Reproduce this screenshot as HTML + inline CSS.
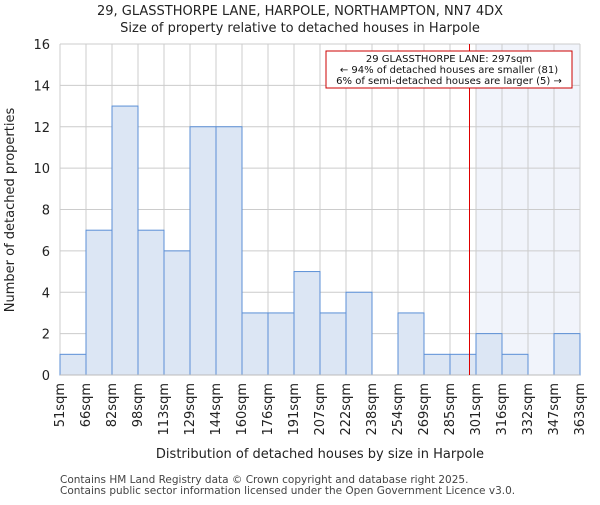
<!DOCTYPE html>
<html><head><meta charset="utf-8"><style>body{margin:0;background:#fff}svg{font-family:"DejaVu Sans","Liberation Sans",sans-serif}</style></head><body>
<svg id="c" width="600" height="500"></svg>
<script>
const categories=["51sqm","66sqm","82sqm","98sqm","113sqm","129sqm","144sqm","160sqm","176sqm","191sqm","207sqm","222sqm","238sqm","254sqm","269sqm","285sqm","301sqm","316sqm","332sqm","347sqm","363sqm"];
const counts=[1,7,13,7,6,12,12,3,3,5,3,4,0,3,1,1,2,1,0,2];
const yTicks=[0,2,4,6,8,10,12,14,16];
const markerValue=297;
const shadeStartIndex=16;
const NS="http://www.w3.org/2000/svg",svg=document.getElementById('c');
const L=60,R=580,T=44,B=375,n=counts.length,bw=(R-L)/n;
const x=i=>L+i*bw, y=v=>B-(v/16)*(B-T);
const edges=categories.map(s=>parseFloat(s));
function xv(v){for(let i=0;i<edges.length-1;i++){if(v<=edges[i+1])return x(i)+(v-edges[i])/(edges[i+1]-edges[i])*bw;}return R;}
function mk(t,a,txt){const e=document.createElementNS(NS,t);for(const k in a)e.setAttribute(k,a[k]);if(txt!==undefined)e.textContent=txt;svg.appendChild(e);return e;}
let e;
e=mk('rect',{x:x(shadeStartIndex),y:T,width:R-x(shadeStartIndex),height:B-T,fill:'#f1f4fb'});


yTicks.forEach(v=>{e=mk('line',{x1:L,x2:R,y1:y(v),y2:y(v),stroke:'#cccccc'});


e=mk('text',{x:L-10,y:y(v)+5,'text-anchor':'end','font-size':13,fill:'#222'},v);

});
categories.forEach((c,i)=>{e=mk('line',{x1:x(i),x2:x(i),y1:T,y2:B,stroke:'#cccccc'});


const lx=x(i)+4;e=mk('text',{x:0,y:0,transform:`translate(${lx},${B+8}) rotate(-90)`,'text-anchor':'end','font-size':13,fill:'#222'},c);

});
counts.forEach((v,i)=>{if(v<=0)return;e=mk('rect',{x:x(i),y:y(v),width:bw,height:B-y(v),fill:'#dce6f4',stroke:'#5b8fd6','stroke-width':1});

});
e=mk('line',{x1:L,x2:R,y1:B,y2:B,stroke:'#bbb'});


const mx=xv(markerValue);
e=mk('line',{x1:mx,x2:mx,y1:T,y2:B,stroke:'#dd0000','stroke-width':1});


e=mk('rect',{x:326,y:51,width:246,height:37,fill:'#fff',stroke:'#cc0000'});


[["29 GLASSTHORPE LANE: 297sqm",62],["← 94% of detached houses are smaller (81)",73],["6% of semi-detached houses are larger (5) →",84]].forEach(([t,yy])=>{e=mk('text',{x:449,y:yy,'text-anchor':'middle','font-size':10,fill:'#111'},t);

});
e=mk('text',{x:300,y:15,'text-anchor':'middle','font-size':13,fill:'#222'},"29, GLASSTHORPE LANE, HARPOLE, NORTHAMPTON, NN7 4DX");


e=mk('text',{x:300,y:32,'text-anchor':'middle','font-size':13,fill:'#222'},"Size of property relative to detached houses in Harpole");


e=mk('text',{x:0,y:0,transform:'translate(14,210) rotate(-90)','text-anchor':'middle','font-size':13,fill:'#222'},"Number of detached properties");


e=mk('text',{x:320,y:458,'text-anchor':'middle','font-size':13,fill:'#222'},"Distribution of detached houses by size in Harpole");


e=mk('text',{x:60,y:483,'font-size':10.5,fill:'#444'},"Contains HM Land Registry data © Crown copyright and database right 2025.");


e=mk('text',{x:60,y:494,'font-size':10.5,fill:'#444'},"Contains public sector information licensed under the Open Government Licence v3.0.");


</script></body></html>
